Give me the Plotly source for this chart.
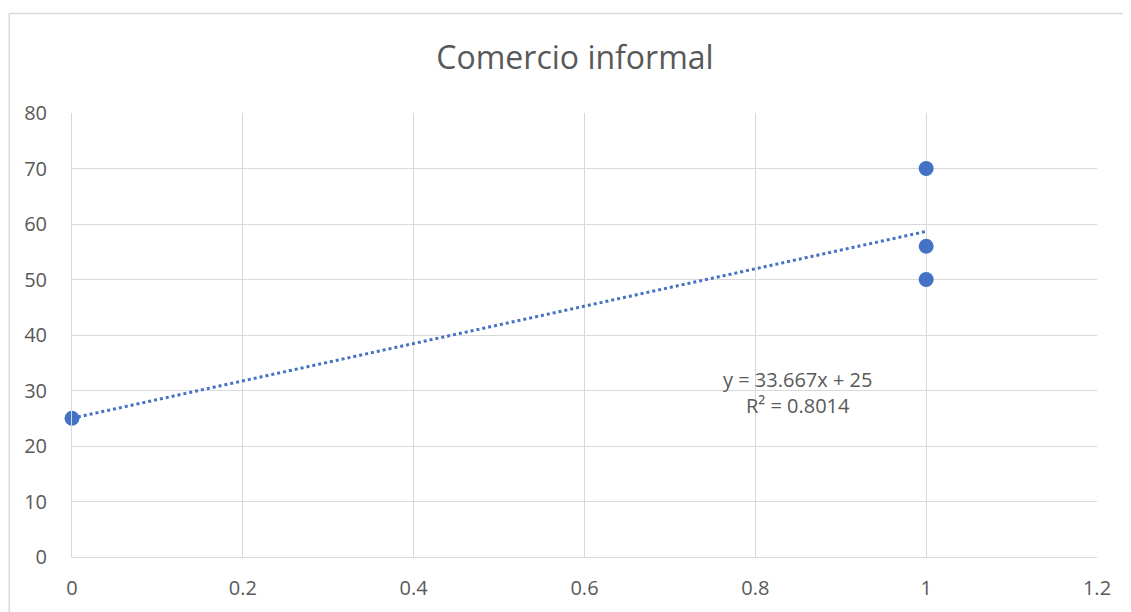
import numpy as np
import plotly.graph_objects as go

x_vals = [0, 1, 1, 1]
y_vals = [25, 70, 56, 50]
title_text = "Comercio informal"
x_ticks = [0, 0.2, 0.4, 0.6, 0.8, 1, 1.2]
x_tick_labels = ["0", "0.2", "0.4", "0.6", "0.8", "1", "1.2"]
y_ticks = [0, 10, 20, 30, 40, 50, 60, 70, 80]

slope, intercept = np.polyfit(x_vals, y_vals, 1)
pred = np.array(x_vals) * slope + intercept
ss_res = np.sum((np.array(y_vals) - pred) ** 2)
ss_tot = np.sum((np.array(y_vals) - np.mean(y_vals)) ** 2)
r2 = 1 - ss_res / ss_tot
trend_x = [min(x_vals), max(x_vals)]
trend_y = [slope * t + intercept for t in trend_x]

BLUE = "#4472C4"
GRID = "#D9D9D9"
TXT = "#595959"
FONT = "Open Sans"

fig = go.Figure()
fig.add_trace(go.Scatter(x=trend_x, y=trend_y, mode="lines",
                         line=dict(color=BLUE, width=3, dash="dot"),
                         hoverinfo="skip", showlegend=False))
fig.add_trace(go.Scatter(x=x_vals, y=y_vals, mode="markers", cliponaxis=False,
                         marker=dict(color=BLUE, size=15, line=dict(width=0)),
                         showlegend=False))

fig.add_annotation(x=0.849, y=29.7, xref="x", yref="y",
                   text=f"y = {slope:.3f}x + {intercept:g}<br>R² = {r2:.4f}",
                   showarrow=False, align="center",
                   font=dict(family=FONT, size=20, color=TXT))

W, H = 1123, 604
L, R, T, B = 63.5, 34, 105, 55
pw = W - L - R
ph = H - T - B
left_px, top_px = 0.75, 5.5
xl = (left_px - L) / pw
yt = (H - B - top_px) / ph
fig.add_shape(type="line", xref="paper", yref="paper", x0=xl, x1=(W + 5 - L) / pw,
              y0=yt, y1=yt, line=dict(color=GRID, width=1.5))
fig.add_shape(type="line", xref="paper", yref="paper", x0=xl, x1=xl,
              y0=yt, y1=-(B + 5) / ph, line=dict(color=GRID, width=1.5))

fig.update_layout(
    width=W, height=H,
    margin=dict(l=L, r=R, t=T, b=B),
    paper_bgcolor="white", plot_bgcolor="white",
    title=dict(text=title_text, x=567 / W, xanchor="center",
               y=1 - 50 / H, yanchor="middle",
               font=dict(family=FONT, size=32, color=TXT)),
    xaxis=dict(range=[0, 1.2], tickvals=x_ticks, ticktext=x_tick_labels,
               showgrid=True, gridcolor=GRID, gridwidth=1,
               showline=True, linecolor=GRID, linewidth=1,
               zeroline=False, ticks="", ticklabelstandoff=13,
               tickfont=dict(family=FONT, size=20, color=TXT)),
    yaxis=dict(range=[0, 80], tickvals=y_ticks,
               showgrid=True, gridcolor=GRID, gridwidth=1,
               showline=True, linecolor=GRID, linewidth=1,
               zeroline=False, ticks="", ticklabelstandoff=20,
               tickfont=dict(family=FONT, size=20, color=TXT)),
)

fig.write_html("out.html")
